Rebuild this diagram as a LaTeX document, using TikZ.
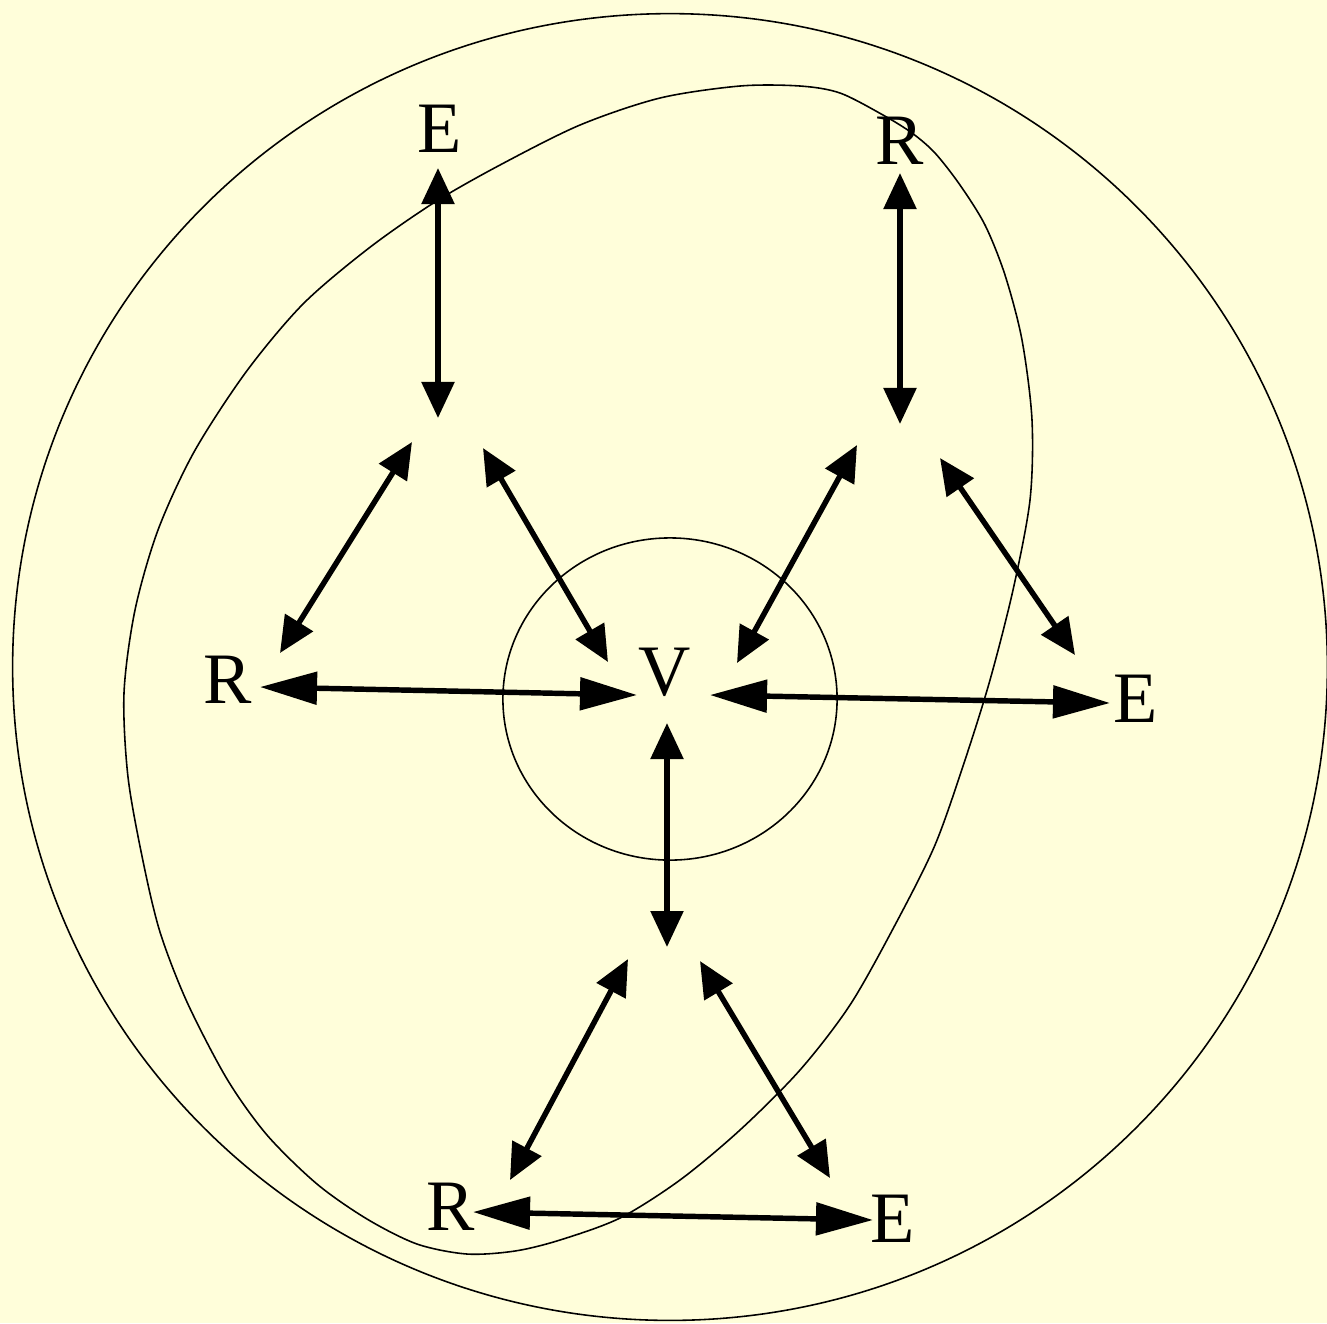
\documentclass[tikz,border=0pt]{standalone}
\usepackage{fontspec}
\setmainfont{Liberation Serif}
\usetikzlibrary{arrows.meta}
\definecolor{bg}{RGB}{255,254,218}
\begin{document}
\begin{tikzpicture}[x=0.01cm,y=-0.01cm,
  lbl/.style={inner sep=0pt, font=\fontsize{20.6}{24}\selectfont},
  curveline/.style={draw=black, line width=0.45pt},
  dbl/.style={line width=1.55pt, >={Triangle[length=0.36cm,width=0.32cm]}, <->},
  dblh/.style={line width=1.55pt, >={Triangle[length=0.57cm,width=0.32cm]}, <->}]
\fill[bg] (0,0) rectangle (1327,1323);
\useasboundingbox (0,0) rectangle (1327,1323);
% outer circle, inner circle, closed curve
\draw[curveline] (670,667) ellipse [x radius=6.57cm, y radius=6.53cm];
\draw[curveline] (670,699) ellipse [x radius=1.67cm, y radius=1.61cm];
\draw[curveline] plot[smooth cycle, tension=0.5] coordinates {
 (580,125) (660,98) (740,86) (800,86) (840,93) (883,115) (912,133)
 (935,153) (960,185) (985,225) (1005,275) (1022,340) (1032,420) (1030,500)
 (1013,590) (990,680) (965,760) (935,845) (895,925) (850,1005) (800,1070)
 (740,1130) (680,1180) (620,1218) (560,1240) (515,1251) (467,1254)
 (417,1244) (367,1219) (317,1184) (267,1135) (227,1079) (187,1002) (160,932)
 (143,861) (128,777) (124,693) (135,610) (158,530) (194,452) (246,372)
 (303,304) (369,248) (435,202) (500,165)};
% labels
\node[lbl] (Etop) at (440,129) {E};
\node[lbl] (Rtop) at (900,141) {R};
\node[lbl] (Rl) at (228,680) {R};
\node[lbl] (V) at (665,672) {V};
\node[lbl] (Er) at (1136,699) {E};
\node[lbl] (Rb) at (451,1207) {R};
\node[lbl] (Eb) at (893,1219) {E};
% junctions
\coordinate (J1) at (440,432);
\coordinate (J2) at (900,438);
\coordinate (J3) at (667,955);
% arrows
\draw[dbl] ([shift={(-2,39)}]Etop.center) -- ([shift={(-2,-14)}]J1);
\draw[dbl] ([shift={(-28,10)}]J1) -- ([shift={(52,-27)}]Rl.center);
\draw[dbl] ([shift={(43,16)}]J1) -- ([shift={(-57,-10)}]V.center);
\draw[dblh] ([shift={(32,7)}]Rl.center) -- ([shift={(-28,23)}]V.center);
\draw[dbl] ([shift={(0,32)}]Rtop.center) -- ([shift={(0,-14)}]J2);
\draw[dbl] ([shift={(-43,7)}]J2) -- ([shift={(72,-9)}]V.center);
\draw[dbl] ([shift={(40,20)}]J2) -- ([shift={(-61,-44)}]Er.center);
\draw[dblh] ([shift={(45,23)}]V.center) -- ([shift={(-26,4)}]Er.center);
\draw[dbl] ([shift={(2,51)}]V.center) -- ([shift={(0,-8)}]J3);
\draw[dbl] ([shift={(-39,4)}]J3) -- ([shift={(59,-27)}]Rb.center);
\draw[dbl] ([shift={(33,6)}]J3) -- ([shift={(-63,-41)}]Eb.center);
\draw[dblh] ([shift={(22,5)}]Rb.center) -- ([shift={(-20,1)}]Eb.center);
\end{tikzpicture}
\end{document}
